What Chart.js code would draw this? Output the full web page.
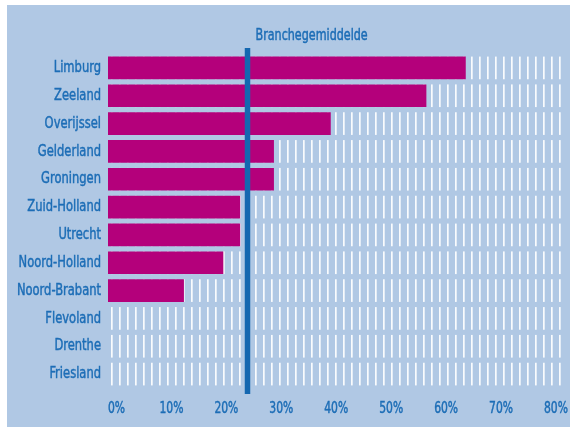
<!DOCTYPE html>
<html>
<head>
<meta charset="utf-8">
<script src="https://cdn.jsdelivr.net/npm/chart.js@4/dist/chart.umd.min.js"></script>
<style>
  html, body { margin: 0; padding: 0; background: #ffffff; }
  #wrap { position: relative; width: 570px; height: 432px; }
</style>
</head>
<body>
<div id="wrap"><canvas id="provincies"></canvas></div>
<script>
// Provincies en hun percentage
const provincies = ['Limburg', 'Zeeland', 'Overijssel', 'Gelderland', 'Groningen', 'Zuid-Holland',
    'Utrecht', 'Noord-Holland', 'Noord-Brabant', 'Flevoland', 'Drenthe', 'Friesland'];
const percentages = [63.6, 56.6, 39.6, 29.5, 29.5, 23.5, 23.5, 20.5, 13.5, 0, 0, 0];
const brancheGemiddelde = 24.8;
const asMax = 80;
const asStap = 10;

const tekstKleur = '#1c6db6';
const lettertype = '"DejaVu Sans Condensed", "DejaVu Sans", sans-serif';
const smal = 0.8; // horizontale versmalling van de tekst

// smalle tekst: horizontaal samengedrukt tekenen
function smalleTekst(c, tekst, x, y, uitlijning, grootte) {
    c.save();
    c.translate(x, y);
    c.scale(smal, 1);
    c.font = grootte + 'px ' + lettertype;
    c.fillStyle = tekstKleur;
    c.textAlign = uitlijning;
    c.textBaseline = 'middle';
    // iets dikkere letters
    c.strokeStyle = tekstKleur;
    c.lineWidth = 0.45;
    c.strokeText(tekst, 0, 0);
    c.fillText(tekst, 0, 0);
    c.restore();
}

// Lichtblauw vlak achter de grafiek
const achtergrond = {
    id: 'achtergrond',
    beforeDraw(chart) {
        const c = chart.ctx;
        c.save();
        c.fillStyle = '#b0c8e4';
        c.fillRect(7, 5, 563, 422);
        c.restore();
    }
};

// Witte streepjes per rij, van 0% tot het einde van de as
const streepjes = {
    id: 'streepjes',
    beforeDatasetsDraw(chart) {
        const c = chart.ctx;
        const x = chart.scales.x;
        const y = chart.scales.y;
        const x0 = x.getPixelForValue(0);
        const x1 = x.getPixelForValue(asMax);
        const rijHoogte = y.getPixelForValue(1) - y.getPixelForValue(0);
        const h = rijHoogte * 0.815;
        c.save();
        c.fillStyle = 'rgba(255,255,255,0.92)';
        provincies.forEach((p, i) => {
            const yc = y.getPixelForValue(i);
            for (let sx = x0 + 3; sx <= x1 + 2; sx += 8) {
                c.fillRect(sx, yc - h / 2, 1.7, h);
            }
        });
        c.restore();
    }
};

// Verticale lijn voor het branchegemiddelde met label
const gemiddeldeLijn = {
    id: 'gemiddeldeLijn',
    afterDatasetsDraw(chart) {
        const c = chart.ctx;
        const area = chart.chartArea;
        const xp = chart.scales.x.getPixelForValue(brancheGemiddelde);
        c.save();
        c.fillStyle = '#1467b0';
        c.fillRect(xp - 2.75, area.top - 6, 5.5, area.bottom - area.top + 12);
        c.restore();
        smalleTekst(c, 'Branchegemiddelde', xp + 8, area.top - 18, 'left', 15.5);
    }
};

// Aslabels (provincienamen en percentages)
const aslabels = {
    id: 'aslabels',
    afterDraw(chart) {
        const c = chart.ctx;
        const x = chart.scales.x;
        const y = chart.scales.y;
        const x0 = x.getPixelForValue(0);
        provincies.forEach((p, i) => {
            smalleTekst(c, p, x0 - 7, y.getPixelForValue(i), 'right', 16);
        });
        // percentages staan iets rechts van hun streepje, het laatste past nog net
        x.ticks.forEach(t => {
            const px = x.getPixelForValue(t.value) + 8.5 - 10.5 * t.value / asMax;
            smalleTekst(c, t.value + '%', px, chart.chartArea.bottom + 21, 'center', 15);
        });
    }
};

const ctx = document.getElementById('provincies').getContext('2d');

const grafiek = new Chart(ctx, {
    type: 'bar',
    data: {
        labels: provincies,
        datasets: [{
            data: percentages,
            backgroundColor: '#b4007b',
            borderWidth: 0,
            categoryPercentage: 1,
            barPercentage: 0.815
        }]
    },
    options: {
        indexAxis: 'y',
        responsive: true,
        maintainAspectRatio: false,
        animation: false,
        layout: {
            padding: { top: 54, bottom: 36, left: 100, right: 12 }
        },
        plugins: {
            legend: { display: false },
            tooltip: { enabled: false }
        },
        scales: {
            x: {
                min: 0,
                max: asMax,
                grid: { display: false },
                border: { display: false },
                ticks: { display: false, stepSize: asStap }
            },
            y: {
                grid: { display: false },
                border: { display: false },
                ticks: { display: false }
            }
        }
    },
    plugins: [achtergrond, streepjes, gemiddeldeLijn, aslabels]
});
</script>
</body>
</html>
